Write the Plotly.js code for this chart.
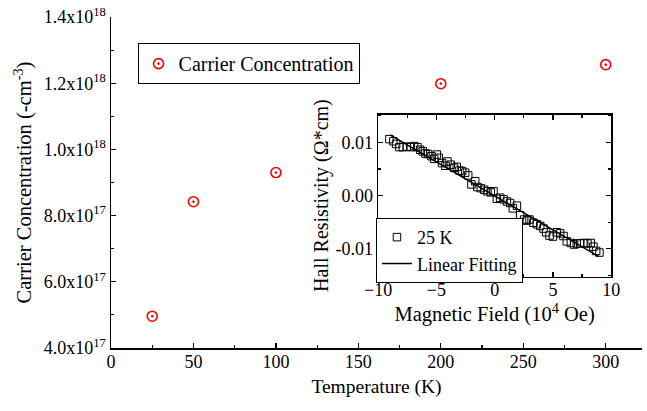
<!DOCTYPE html>
<html>
<head>
<meta charset="utf-8">
<script src="https://cdn.plot.ly/plotly-3.0.1.min.js"></script>
<style>html,body{margin:0;padding:0;background:#fff;}#chart{width:647px;height:411px;}</style>
</head>
<body>
<div id="chart"></div>
<script>
// Main chart data
const temperature = [25, 50, 100, 200, 300];
const carrierConc = [4.96e17, 8.42e17, 9.30e17, 1.1985e18, 1.256e18];

// Main y tick labels
const yTickVals = [4e17, 6e17, 8e17, 1.0e18, 1.2e18, 1.4e18];
const yTickText = ["4.0x10<sup>17</sup>", "6.0x10<sup>17</sup>", "8.0x10<sup>17</sup>",
                   "1.0x10<sup>18</sup>", "1.2x10<sup>18</sup>", "1.4x10<sup>18</sup>"];

// Inset: Hall resistivity at 25 K
const fieldB = [-9.03,-8.69,-8.45,-8.17,-7.88,-7.54,-7.19,-6.91,-6.63,-6.39,-6.16,-5.94,-5.71,-5.42,-5.19,-4.96,-4.79,-4.51,-4.22,-4.05,-3.76,-3.48,-3.25,-3.02,-2.79,-2.53,-2.27,-1.99,-1.67,-1.48,-1.19,-0.90,-0.62,-0.33,-0.10,0.19,0.47,0.76,1.05,1.33,1.56,1.91,2.19,2.53,2.76,2.99,3.33,3.62,3.91,4.19,4.42,4.71,5.00,5.34,5.62,5.91,6.19,6.54,6.82,7.05,7.34,7.68,7.96,8.25,8.47,8.71,8.99];
const hallRho = [0.0106,0.0102,0.0097,0.0091,0.0091,0.0092,0.0091,0.0093,0.0091,0.0086,0.0083,0.0079,0.0078,0.0074,0.0069,0.0077,0.0071,0.0061,0.0056,0.0064,0.0058,0.0052,0.0054,0.0047,0.0046,0.0043,0.0038,0.0021,0.0027,0.0016,0.0014,0.0011,0.0008,0.0006,0.0008,-0.0006,-0.0004,-0.0007,-0.0011,-0.0014,-0.0024,-0.0019,-0.0037,-0.0045,-0.0047,-0.0045,-0.0051,-0.0054,-0.0057,-0.0062,-0.0069,-0.0075,-0.0077,-0.0069,-0.0071,-0.0076,-0.0086,-0.0089,-0.0092,-0.0090,-0.0090,-0.0089,-0.0090,-0.0089,-0.0096,-0.0104,-0.0107];
// Linear fit end points
const fitB = [-8.97, 8.9];
const fitRho = [0.0114, -0.0114];

const inY = [-0.01, 0, 0.01];
const inYText = ["-0.01", "0.00", "0.01"];

const FONT = "Liberation Serif, Times New Roman, serif";

const traces = [
  {x: temperature, y: carrierConc, type: 'scatter', mode: 'markers', name: 'Carrier Concentration',
   marker: {symbol: 'circle-open-dot', size: 10, color: '#ff0000', line: {width: 1.6, color: '#ff0000'}},
   xaxis: 'x', yaxis: 'y', legend: 'legend'},
  {x: fieldB, y: hallRho, type: 'scatter', mode: 'markers', name: '25 K',
   marker: {symbol: 'square-open', size: 7.5, color: '#000', line: {width: 1, color: '#000'}},
   xaxis: 'x2', yaxis: 'y2', legend: 'legend2'},
  {x: fitB, y: fitRho, type: 'scatter', mode: 'lines', name: 'Linear Fitting',
   line: {color: '#000', width: 1.5},
   xaxis: 'x2', yaxis: 'y2', legend: 'legend2'}
];

const axBase = {showline: true, linecolor: '#000', linewidth: 1.5, ticks: 'inside', ticklen: 5, tickwidth: 1.2,
  tickcolor: '#000', showgrid: false, zeroline: false, tickfont: {family: FONT, size: 18, color: '#000'}};

const layout = {
  width: 647, height: 411,
  margin: {l: 111, r: 5, t: 17, b: 63},
  paper_bgcolor: '#fff', plot_bgcolor: '#fff',
  font: {family: FONT, color: '#000', size: 18},
  xaxis: Object.assign({}, axBase, {
    domain: [0, 1], anchor: 'y', range: [0, 322],
    tickmode: 'linear', tick0: 0, dtick: 50, ticklabelstandoff: -3,
    minor: {dtick: 25, tick0: 0, ticks: 'inside', ticklen: 3, tickcolor: '#000', tickwidth: 1.2},
    title: {text: 'Temperature (K)', font: {family: FONT, size: 19.5, color: '#000'}, standoff: 8}
  }),
  yaxis: Object.assign({}, axBase, {
    domain: [0, 1], anchor: 'x', range: [4e17, 1.4e18],
    tickmode: 'array', tickvals: yTickVals, ticktext: yTickText,
    minor: {dtick: 1e17, tick0: 0, ticks: 'inside', ticklen: 3, tickcolor: '#000', tickwidth: 1.2},
    title: {text: 'Carrier Concentration (-cm<sup>-3</sup>)', font: {family: FONT, size: 20.5, color: '#000'}, standoff: 6}
  }),
  xaxis2: Object.assign({}, axBase, {
    domain: [0.503, 0.942], anchor: 'y2', range: [-10, 10], mirror: 'ticks',
    tickmode: 'linear', tick0: 0, dtick: 5, ticklabelstandoff: -4,
    minor: {dtick: 2.5, tick0: 0, ticks: 'inside', ticklen: 3, tickcolor: '#000', tickwidth: 1.2},
    title: {text: 'Magnetic Field (10<sup>4</sup> Oe)', font: {family: FONT, size: 20.5, color: '#000'}, standoff: 0}
  }),
  yaxis2: Object.assign({}, axBase, {
    domain: [0.216, 0.705], anchor: 'x2', range: [-0.0152, 0.0152], mirror: 'ticks',
    tickmode: 'array', tickvals: inY, ticktext: inYText,
    minor: {dtick: 0.005, tick0: 0, ticks: 'inside', ticklen: 3, tickcolor: '#000', tickwidth: 1.2},
    title: {text: 'Hall Resistivity (Ω*cm)', font: {family: FONT, size: 20, color: '#000'}, standoff: 1}
  }),
  legend: {x: 0.05, y: 0.921, xanchor: 'left', yanchor: 'top', bgcolor: '#fff', bordercolor: '#000', borderwidth: 1,
    font: {family: FONT, size: 20, color: '#000'}, itemwidth: 30, tracegroupgap: 0},
  legend2: {x: 0.499, y: 0.393, xanchor: 'left', yanchor: 'top', bgcolor: '#fff', bordercolor: '#000', borderwidth: 1,
    font: {family: FONT, size: 18, color: '#000'}, itemwidth: 30, tracegroupgap: 0},
  showlegend: true
};

Plotly.newPlot('chart', traces, layout, {staticPlot: true, displayModeBar: false});
</script>
</body>
</html>
